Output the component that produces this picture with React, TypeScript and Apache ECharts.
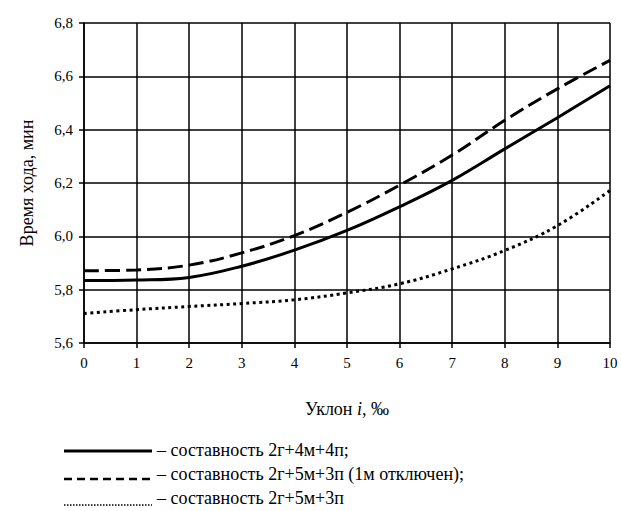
import React, { useEffect, useRef } from "react";
import * as echarts from "echarts";

const slopes = [0, 1, 2, 3, 4, 5, 6, 7, 8, 9, 10];
const solidValues = [5.834, 5.836, 5.846, 5.888, 5.948, 6.022, 6.111, 6.21, 6.328, 6.445, 6.565];
const dashedValues = [5.871, 5.874, 5.892, 5.938, 6.003, 6.09, 6.192, 6.305, 6.435, 6.553, 6.66];
const dottedValues = [5.711, 5.725, 5.737, 5.748, 5.762, 5.788, 5.822, 5.878, 5.947, 6.04, 6.172];
const yTicks = { min: 5.6, max: 6.8, interval: 0.2 };
const xTicks = { min: 0, max: 10, interval: 1 };
const legendLabels = [
  "– составность 2г+4м+4п;",
  "– составность 2г+5м+3п (1м отключен);",
  "– составность 2г+5м+3п",
];

const FONT = "Liberation Serif";

export default function App() {
  const ref = useRef<HTMLDivElement>(null);
  useEffect(() => {
    if (!ref.current) return;
    const chart = echarts.init(ref.current, undefined, { renderer: "svg" });
    const pairs = (vals: number[]) => slopes.map((x, i) => [x, vals[i]]);
    const lineBase = { type: "line", smooth: 0.4, showSymbol: false, symbol: "none", animation: false };
    chart.setOption({
      animation: false,
      backgroundColor: "#fff",
      textStyle: { fontFamily: FONT, color: "#000" },
      grid: { left: 84, right: 11, top: 23, bottom: 168, containLabel: false },
      xAxis: {
        type: "value",
        min: xTicks.min,
        max: xTicks.max,
        interval: xTicks.interval,
        name: "Уклон {i|i}, ‰",
        nameLocation: "middle",
        nameGap: 57,
        nameTextStyle: {
          fontFamily: FONT,
          fontSize: 18,
          color: "#000",
          rich: { i: { fontStyle: "italic", fontFamily: FONT, fontSize: 18, color: "#000" } },
        },
        axisLine: { show: true, lineStyle: { color: "#000", width: 1.5 } },
        axisTick: { show: true, length: 5, inside: false, lineStyle: { color: "#000", width: 1.5 } },
        axisLabel: { fontFamily: FONT, fontSize: 15, color: "#000", margin: 12 },
        splitLine: { show: true, lineStyle: { color: "#000", width: 1.5 } },
      },
      yAxis: {
        type: "value",
        min: yTicks.min,
        max: yTicks.max,
        interval: yTicks.interval,
        name: "Время хода, мин",
        nameLocation: "middle",
        nameGap: 48,
        nameRotate: 90,
        nameTextStyle: { fontFamily: FONT, fontSize: 18, color: "#000" },
        axisLine: { show: true, lineStyle: { color: "#000", width: 1.5 } },
        axisTick: { show: true, length: 5, lineStyle: { color: "#000", width: 1.5 } },
        axisLabel: {
          fontFamily: FONT,
          fontSize: 15,
          color: "#000",
          margin: 11,
          formatter: (v: number) => v.toFixed(1).replace(".", ","),
        },
        splitLine: { show: true, lineStyle: { color: "#000", width: 1.5 } },
      },
      series: [
        { ...lineBase, name: legendLabels[0], data: pairs(solidValues), lineStyle: { color: "#000", width: 3, type: "solid" } },
        { ...lineBase, name: legendLabels[1], data: pairs(dashedValues), lineStyle: { color: "#000", width: 3, type: [15, 6] } },
        { ...lineBase, name: legendLabels[2], data: pairs(dottedValues), lineStyle: { color: "#000", width: 3, type: [3, 3.5] } },
      ],
      graphic: [
        { type: "line", shape: { x1: 64, y1: 451, x2: 152, y2: 451 }, style: { stroke: "#000", lineWidth: 3 } },
        { type: "line", shape: { x1: 64, y1: 479, x2: 152, y2: 479 }, style: { stroke: "#000", lineWidth: 2.5, lineDash: [8, 5] } },
        { type: "line", shape: { x1: 64, y1: 505, x2: 152, y2: 505 }, style: { stroke: "#000", lineWidth: 1.5, lineDash: [1.5, 1.5] } },
        { type: "text", left: 157, top: 441, style: { text: legendLabels[0], fontFamily: FONT, fontSize: 18, fill: "#000" } },
        { type: "text", left: 157, top: 465, style: { text: legendLabels[1], fontFamily: FONT, fontSize: 18, fill: "#000" } },
        { type: "text", left: 157, top: 489, style: { text: legendLabels[2], fontFamily: FONT, fontSize: 18, fill: "#000" } },
      ],
    });
    return () => chart.dispose();
  }, []);
  return <div ref={ref} style={{ position: "fixed", left: 0, top: 0, width: 621, height: 511 }} />;
}
